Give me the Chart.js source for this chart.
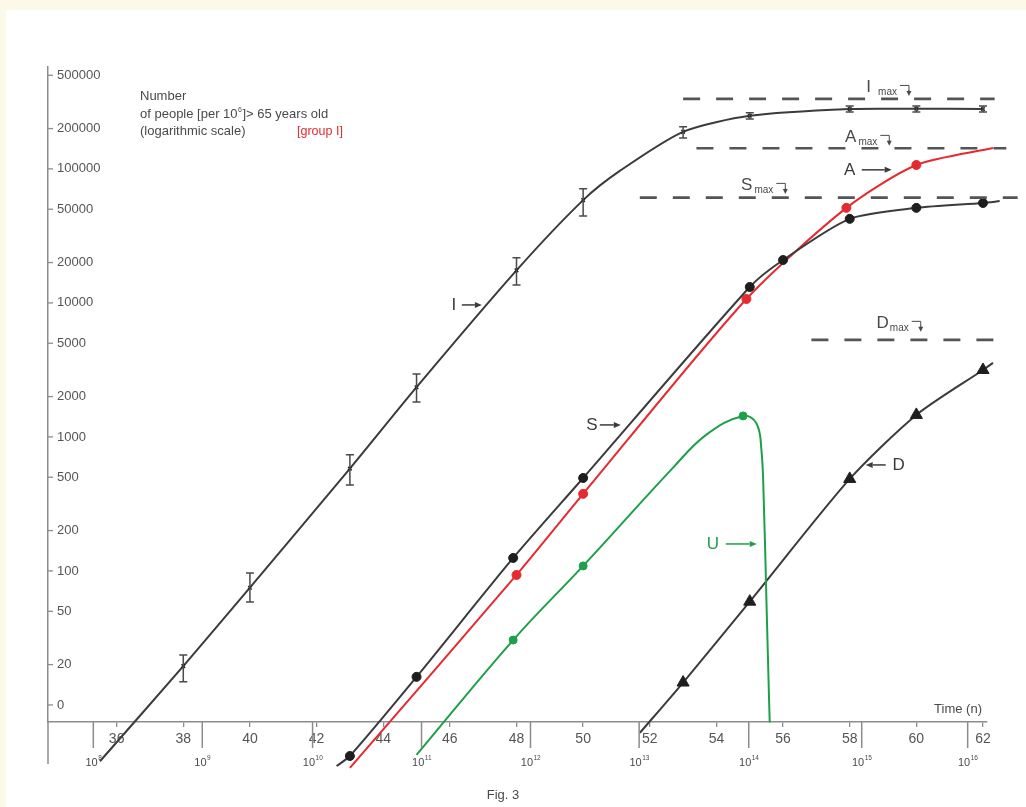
<!DOCTYPE html>
<html>
<head>
<meta charset="utf-8">
<script src="https://cdn.jsdelivr.net/npm/chart.js@4.4.1/dist/chart.umd.min.js"></script>
<style>
  html, body { margin: 0; padding: 0; background: #fdf9e8; }
  #sheet { position: absolute; left: 6px; top: 10px; right: 0; bottom: 0; background: #fff; }
  #fig { position: absolute; left: 0; top: 0; }
</style>
</head>
<body>
<div id="sheet"></div>
<canvas id="fig" width="1026" height="807"></canvas>
<script>
// axes
const xTicks = [36, 38, 40, 42, 44, 46, 48, 50, 52, 54, 56, 58, 60, 62];
const yTicks = [10, 20, 50, 100, 200, 500, 1000, 2000, 5000, 10000, 20000, 50000, 100000, 200000, 500000];
const yTickLabels = ['0', '20', '50', '100', '200', '500', '1000', '2000', '5000', '10000', '20000', '50000', '100000', '200000', '500000'];
// population size 10^k marked along the time axis
const powerTicks = [35.3, 38.57, 41.88, 45.15, 48.42, 51.68, 54.97, 58.36, 61.54];
const powerExps = ['8', '9', '10', '11', '12', '13', '14', '15', '16'];

// I curve with error bars
const nI = [35.5, 38, 40, 43, 45, 48, 50, 51.1, 53, 55, 58, 60, 62];
const valI = [3.8, 19.5, 75, 580, 2350, 17500, 58500, 96600, 189000, 249000, 280000, 281000, 280000];
const lowI = [null, 14.9, 58.7, 438, 1820, 13600, 44600, null, 170000, 236000, 266000, 266000, 266000];
const highI = [null, 23.6, 96.6, 735, 2950, 21700, 71000, null, 206000, 262000, 295000, 295000, 295000];
const dotsI = [38, 40, 43, 45, 48, 50, 53, 55, 58, 60, 62];

// S curve
const nS = [42.6, 43, 45, 47.9, 50, 55, 56, 58, 60, 62, 62.5];
const valS = [3.5, 4.16, 16.2, 125, 494, 13150, 20900, 42400, 51200, 55700, 57500];
const dotsS = [43, 45, 47.9, 50, 55, 56, 58, 60, 62];

// A curve
const nA = [43, 48, 50, 54.9, 57.9, 60, 62.3];
const valA = [3.39, 93.3, 376, 10700, 51200, 107000, 143000];
const dotsA = [48, 50, 54.9, 57.9, 60];

// U curve
const nU = [45.0, 47.9, 50, 52.7, 53.7, 54.8, 55.2, 55.35, 55.42, 55.5, 55.58, 55.6];
const valU = [4.24, 30.5, 109, 590, 1040, 1435, 1265, 800, 339, 61, 10.9, 7.4];
const dotsU = [47.9, 50, 54.8];

// D curve
const nD = [51.7, 53, 55, 58, 60, 62, 62.3];
const valD = [6.18, 14.7, 59, 486, 1460, 3160, 3565];
const dotsD = [53, 55, 58, 60, 62];

// saturation levels (value, from n, to n)
const maxNames = ['I', 'A', 'S', 'D'];
const maxLevel = [333000, 142600, 61100, 5300];
const maxFrom = [53.0, 53.4, 51.7, 56.85];
const maxTo = [62.35, 62.7, 63.04, 62.35];

const ink = '#3b3b3b';
const dotInk = '#1e1e1e';
const red = '#e52a30';
const green = '#1ea04a';
const axisGrey = '#8c8c8c';
const textGrey = '#4a4a4a';
const font = 'Arial, "Liberation Sans", sans-serif';

const pts = (ns, vs) => ns.map((n, i) => ({ x: n, y: vs[i] }));

function curve(ns, vs, dots, color, markColor, style, radius, tension) {
  return {
    data: pts(ns, vs),
    borderColor: color,
    borderWidth: 2,
    tension: tension,
    capBezierPoints: false,
    clip: false,
    pointStyle: style,
    pointRadius: c => dots.includes(ns[c.dataIndex]) ? radius : 0,
    pointBackgroundColor: markColor,
    pointBorderColor: markColor,
    pointBorderWidth: 1
  };
}

const datasets = [];
maxLevel.forEach((v, i) => {
  datasets.push({
    data: [{ x: maxFrom[i], y: v }, { x: maxTo[i], y: v }],
    borderColor: '#555',
    borderWidth: 2.6,
    borderDash: [17, 16],
    pointRadius: 0,
    clip: false
  });
});
const dsI = curve(nI, valI, dotsI, ink, '#222', 'crossRot', 2.5, 0.25);
dsI.pointBorderWidth = 1.5;
datasets.push(dsI);
datasets.push(curve(nS, valS, dotsS, ink, dotInk, 'circle', 4.5, 0.25));
datasets.push(curve(nA, valA, dotsA, red, red, 'circle', 4.5, 0.25));
datasets.push(curve(nU, valU, dotsU, green, green, 'circle', 4, 0.4));
datasets.push(curve(nD, valD, dotsD, ink, dotInk, 'triangle', 7, 0.25));

// curve labels with arrows, in data coordinates
const curveLabels = [
  { text: 'I', n: 46.12, v: 9660, from: 46.36, to: 46.96, color: ink },
  { text: 'S', n: 50.26, v: 1229, from: 50.5, to: 51.13, color: ink },
  { text: 'U', n: 53.89, v: 159, from: 54.28, to: 55.21, color: green },
  { text: 'A', n: 58.0, v: 98400, from: 58.36, to: 59.26, color: ink },
  { text: 'D', n: 59.47, v: 618, from: 59.08, to: 58.48, color: ink }
];
const maxLabelPos = [
  { n: 58.57, v: 409000, gap: 7 },
  { n: 58.03, v: 173400, gap: 2 },
  { n: 54.91, v: 76000, gap: 2 },
  { n: 58.99, v: 7100, gap: 1 }
];

function arrow(ctx, x1, y1, x2, y2, head, wing) {
  const a = Math.atan2(y2 - y1, x2 - x1);
  const bx = x2 - head * Math.cos(a), by = y2 - head * Math.sin(a);
  ctx.beginPath(); ctx.moveTo(x1, y1); ctx.lineTo(bx, by); ctx.stroke();
  ctx.beginPath();
  ctx.moveTo(x2, y2);
  ctx.lineTo(bx + wing * Math.sin(a), by - wing * Math.cos(a));
  ctx.lineTo(bx - wing * Math.sin(a), by + wing * Math.cos(a));
  ctx.closePath(); ctx.fill();
}

const decor = {
  id: 'decor',
  afterDraw(chart) {
    const { ctx, chartArea: ca, scales: { x, y } } = chart;
    ctx.save();
    ctx.strokeStyle = axisGrey;
    ctx.lineWidth = 1.3;
    // y ticks point inwards
    yTicks.forEach(v => {
      const py = y.getPixelForValue(v);
      ctx.beginPath(); ctx.moveTo(ca.left, py); ctx.lineTo(ca.left + 5, py); ctx.stroke();
    });
    // y axis runs on below the time axis
    ctx.lineWidth = 1.5;
    ctx.beginPath(); ctx.moveTo(ca.left, ca.bottom); ctx.lineTo(ca.left, ca.bottom + 42); ctx.stroke();
    // long ticks and 10^k labels
    powerTicks.forEach((n, i) => {
      const px = x.getPixelForValue(n);
      ctx.strokeStyle = axisGrey;
      ctx.lineWidth = 1.5;
      ctx.beginPath(); ctx.moveTo(px, ca.bottom); ctx.lineTo(px, ca.bottom + 26); ctx.stroke();
      ctx.font = '11px ' + font;
      const w1 = ctx.measureText('10').width;
      ctx.font = '6.5px ' + font;
      const w2 = ctx.measureText(powerExps[i]).width;
      const left = px - (w1 + w2) / 2;
      ctx.fillStyle = textGrey;
      ctx.textAlign = 'left';
      ctx.textBaseline = 'middle';
      ctx.font = '11px ' + font;
      ctx.fillText('10', left, ca.bottom + 41);
      ctx.font = '6.5px ' + font;
      ctx.fillText(powerExps[i], left + w1 + 0.5, ca.bottom + 36);
    });

    // titles
    ctx.fillStyle = textGrey;
    ctx.textAlign = 'left';
    ctx.textBaseline = 'middle';
    ctx.font = '13px ' + font;
    const tx = ca.left + 92;
    ctx.fillText('Number', tx, ca.top + 29);
    const part1 = 'of people [per 10';
    ctx.fillText(part1, tx, ca.top + 47);
    const w = ctx.measureText(part1).width;
    ctx.font = '7px ' + font;
    ctx.fillText('6', tx + w + 0.5, ca.top + 43);
    const ws = ctx.measureText('6').width;
    ctx.font = '13px ' + font;
    ctx.fillText(']> 65 years old', tx + w + ws + 1, ca.top + 47);
    ctx.fillText('(logarithmic scale)', tx, ca.top + 64);
    ctx.fillStyle = red;
    ctx.font = '12.5px ' + font;
    ctx.fillText('[group I]', ca.left + 249, ca.top + 65);

    ctx.fillStyle = textGrey;
    ctx.font = '13px ' + font;
    ctx.textAlign = 'right';
    ctx.fillText('Time (n)', ca.right - 5, ca.bottom - 13);
    ctx.textAlign = 'center';
    ctx.fillText('Fig. 3', 503, ca.bottom + 73);
    ctx.restore();
  },
  afterDatasetsDraw(chart) {
    const { ctx, chartArea: ca, scales: { x, y } } = chart;
    ctx.save();
    // markers lying outside the plot area are skipped by Chart.js, draw them here
    const whole = { left: 0, top: 0, right: chart.width, bottom: chart.height };
    chart.data.datasets.forEach((ds, di) => {
      chart.getDatasetMeta(di).data.forEach(el => {
        if (el.y > ca.bottom || el.x > ca.right) el.draw(ctx, whole);
      });
    });

    // error bars of the I curve
    ctx.strokeStyle = '#4a4a4a';
    ctx.lineWidth = 1.5;
    nI.forEach((n, i) => {
      if (lowI[i] == null) return;
      const px = x.getPixelForValue(n);
      const p1 = y.getPixelForValue(lowI[i]);
      const p2 = y.getPixelForValue(highI[i]);
      ctx.beginPath();
      ctx.moveTo(px, p1); ctx.lineTo(px, p2);
      ctx.moveTo(px - 4, p1); ctx.lineTo(px + 4, p1);
      ctx.moveTo(px - 4, p2); ctx.lineTo(px + 4, p2);
      ctx.stroke();
    });

    // curve names with arrows
    ctx.textAlign = 'center';
    ctx.textBaseline = 'middle';
    curveLabels.forEach(l => {
      const py = y.getPixelForValue(l.v);
      ctx.fillStyle = l.color;
      ctx.strokeStyle = l.color;
      ctx.font = '17px ' + font;
      ctx.fillText(l.text, x.getPixelForValue(l.n), py);
      ctx.lineWidth = 1.5;
      arrow(ctx, x.getPixelForValue(l.from), py, x.getPixelForValue(l.to), py, 7, 3);
    });

    // saturation labels with hooked arrows
    maxLabelPos.forEach((m, i) => {
      const px = x.getPixelForValue(m.n);
      const py = y.getPixelForValue(m.v);
      ctx.fillStyle = textGrey;
      ctx.strokeStyle = textGrey;
      ctx.textAlign = 'center';
      ctx.font = '17px ' + font;
      ctx.fillText(maxNames[i], px, py);
      const lw = ctx.measureText(maxNames[i]).width;
      ctx.textAlign = 'left';
      ctx.font = '10px ' + font;
      const sx = px + lw / 2 + m.gap;
      ctx.fillText('max', sx, py + 5);
      const hx = sx + ctx.measureText('max').width + 3;
      ctx.lineWidth = 1;
      ctx.beginPath();
      ctx.moveTo(hx, py - 1.5); ctx.lineTo(hx + 9, py - 1.5); ctx.lineTo(hx + 9, py + 4);
      ctx.stroke();
      arrow(ctx, hx + 9, py + 3, hx + 9, py + 9, 5, 2.5);
    });
    ctx.restore();
  }
};

new Chart(document.getElementById('fig'), {
  type: 'line',
  data: { datasets },
  plugins: [decor],
  options: {
    responsive: false,
    animation: false,
    layout: { padding: { left: 48, top: 67, right: 39, bottom: 55 } },
    plugins: { legend: { display: false }, tooltip: { enabled: false } },
    scales: {
      x: {
        type: 'linear',
        min: 33.94,
        max: 62.12,
        bounds: 'data',
        afterBuildTicks: s => { s.ticks = xTicks.map(v => ({ value: v })); },
        afterFit: s => { s.height = 30; },
        border: { color: axisGrey, width: 1.5 },
        grid: { drawOnChartArea: false, drawTicks: true, tickLength: 5, color: axisGrey, lineWidth: 1.3 },
        ticks: {
          autoSkip: false, maxRotation: 0, padding: 4, color: '#555',
          font: { family: font, size: 14 },
          callback: v => String(v)
        }
      },
      y: {
        type: 'logarithmic',
        min: 7.46,
        max: 576000,
        bounds: 'data',
        afterBuildTicks: s => { s.ticks = yTicks.map(v => ({ value: v })); },
        afterFit: s => { s.width = 0; },
        border: { color: axisGrey, width: 1.5 },
        grid: { display: false },
        ticks: {
          mirror: true, autoSkip: false, padding: 9, color: '#555',
          font: { family: font, size: 13 },
          callback: (v, i) => yTickLabels[i]
        }
      }
    }
  }
});
</script>
</body>
</html>
